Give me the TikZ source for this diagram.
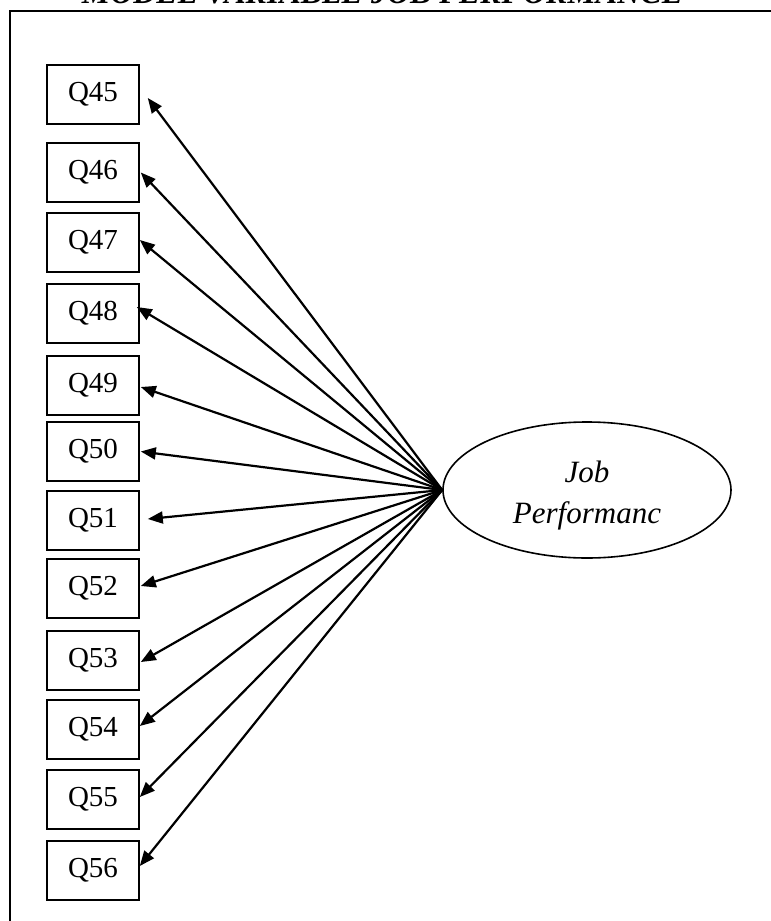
\documentclass[tikz,border=0pt]{standalone}
\usepackage{fontspec}
\setmainfont{Liberation Serif}
\usetikzlibrary{shapes.geometric,arrows.meta,calc}
\begin{document}
\begin{tikzpicture}[x=1pt,y=-1pt,
  item/.style={draw,line width=1.6pt,minimum width=92pt,minimum height=59pt,
    inner sep=0pt,font=\fontsize{29}{34}\selectfont},
  latent/.style={draw,ellipse,line width=1.6pt,minimum width=288pt,
    minimum height=136pt,inner sep=0pt,align=center,
    font=\fontsize{31}{41}\selectfont\itshape},
  load/.style={line width=2.2pt,-{Triangle[length=15pt,width=12pt]}},
  frame/.style={line width=2.2pt}]
\clip (0,0) rectangle (771,921);
% outer frame (only its top and left sides fall on the page)
\draw[frame] (10,960) -- (10,11) -- (800,11);
\node[anchor=base,font=\fontsize{32}{38}\selectfont\bfseries\itshape]
  (title) at (382.5,3) {MODEL VARIABLE JOB PERFORMANCE};
% indicator items
\foreach \n/\y in {45/94.5,46/172.5,47/242.5,48/313.5,49/385.5,50/451.5,
                   51/520.5,52/588.5,53/660.5,54/729.5,55/799.5,56/870.5}
  \node[item] (q\n) at (93,\y) {Q\n};
% latent construct
\node[latent] (jp) at (587,490) {\rule{0pt}{33pt}Job\\Performanc};
% loadings
\foreach \n/\dx/\dy in {45/8/3.5,46/1/0,47/0/-2.5,48/-3/-6.5,49/1/1.5,50/1/0,
                        51/8/-1.5,52/1/-2.5,53/1/1.5,54/0/-3.5,55/0/-2.5,56/0/-4.5}
  \draw[load] (jp.west) -- ($(q\n.east)+(\dx,\dy)$);
\end{tikzpicture}
\end{document}
